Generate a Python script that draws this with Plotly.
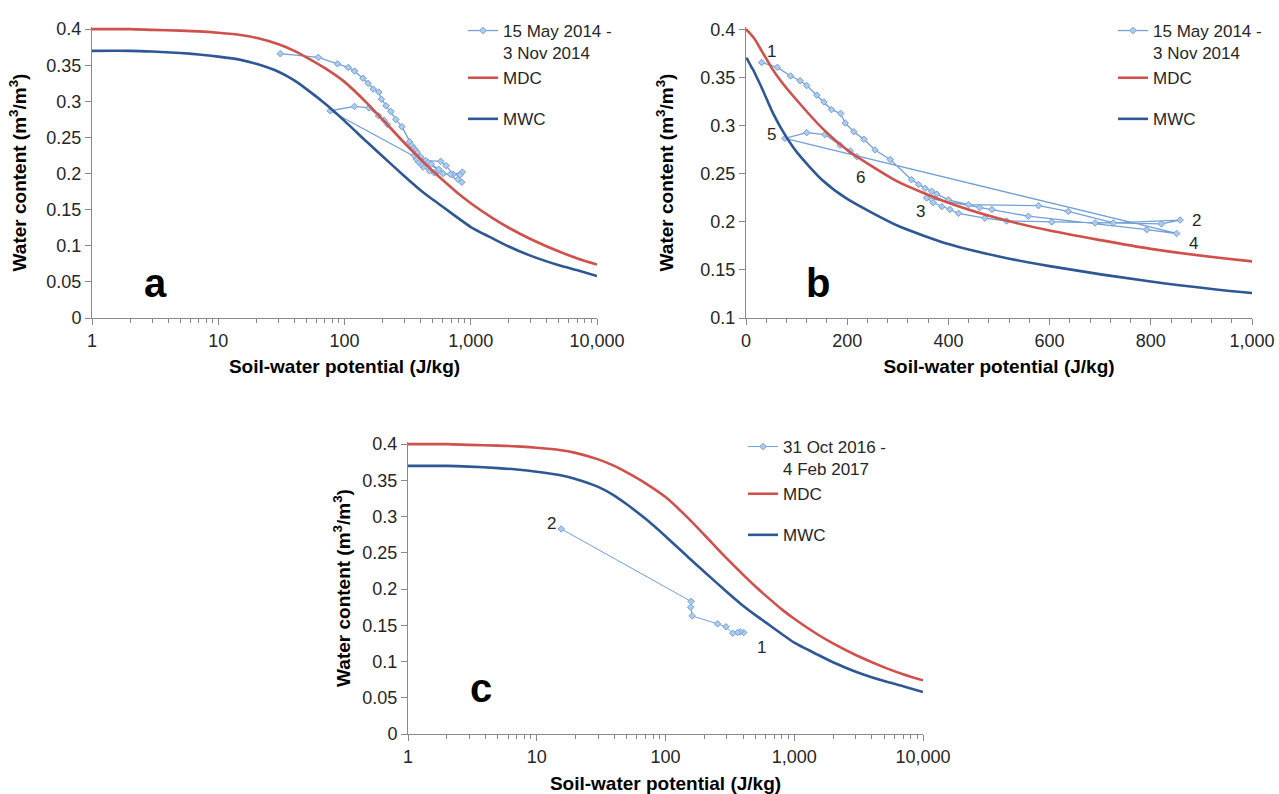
import math
import plotly.graph_objects as go

# ---------------- data ----------------
# Model curves: soil-water potential (J/kg) vs water content (m3/m3)
H_CURVE = [0, 1, 2, 3, 5, 7, 10, 15, 20, 30, 40, 50, 70, 100, 150, 200, 300, 400,
           500, 600, 800, 1000, 1500, 2000, 3000, 5000, 7000, 10000]
MDC = [0.400, 0.400, 0.400, 0.399, 0.398, 0.397, 0.395, 0.392, 0.388, 0.379, 0.370,
       0.361, 0.346, 0.327, 0.298, 0.275, 0.242, 0.220, 0.2035, 0.191, 0.172, 0.159,
       0.138, 0.125, 0.109, 0.092, 0.0825, 0.074]
MWC = [0.370, 0.370, 0.370, 0.369, 0.367, 0.365, 0.362, 0.3575, 0.352, 0.341, 0.329,
       0.317, 0.297, 0.273, 0.244, 0.224, 0.196, 0.177, 0.164, 0.154, 0.138, 0.126,
       0.110, 0.099, 0.086, 0.073, 0.066, 0.058]

# Measured series 15 May 2014 - 3 Nov 2014 (panels a and b)
S1_NAME = "15 May 2014 -<br>3 Nov 2014"
S1_H = [31, 62, 88, 107, 120, 140, 154, 169, 187, 196, 213, 233, 255, 285, 327, 341,
        354, 367, 377, 400, 440, 578, 637, 726, 858, 821, 690, 604, 515, 472, 420,
        403, 387, 370, 357, 462, 486, 558, 792, 851, 77, 120, 156, 186, 206, 219]
S1_T = [0.366, 0.361, 0.352, 0.347, 0.342, 0.332, 0.325, 0.317, 0.313, 0.303, 0.294,
        0.286, 0.275, 0.265, 0.244, 0.239, 0.235, 0.232, 0.229, 0.223, 0.218, 0.217,
        0.211, 0.199, 0.202, 0.198, 0.199, 0.200, 0.201, 0.204, 0.209, 0.213, 0.216,
        0.220, 0.225, 0.215, 0.213, 0.206, 0.192, 0.188, 0.287, 0.293, 0.291, 0.280,
        0.274, 0.268]

# Measured series 31 Oct 2016 - 4 Feb 2017 (panel c)
S2_NAME = "31 Oct 2016 -<br>4 Feb 2017"
S2_H = [405, 380, 363, 333, 295, 254, 161, 157, 158, 15.5]
S2_T = [0.140, 0.141, 0.140, 0.139, 0.148, 0.152, 0.163, 0.175, 0.183, 0.283]

# Point labels
LAB_B = ["1", "2", "3", "4", "5", "6"]
LAB_B_H = [51, 891, 344, 884, 51, 227]
LAB_B_T = [0.377, 0.202, 0.211, 0.178, 0.291, 0.246]
LAB_C = ["2", "1"]
LAB_C_H = [13.0, 552]
LAB_C_T = [0.291, 0.120]

# Ticks
LOG_TICKS = [1, 10, 100, 1000, 10000]
LOG_TICK_TEXT = ["1", "10", "100", "1,000", "10,000"]
LIN_TICKS = [0, 200, 400, 600, 800, 1000]
LIN_TICK_TEXT = ["0", "200", "400", "600", "800", "1,000"]
Y_TICKS_A = [0, 0.05, 0.1, 0.15, 0.2, 0.25, 0.3, 0.35, 0.4]
Y_TEXT_A = ["0", "0.05", "0.1", "0.15", "0.2", "0.25", "0.3", "0.35", "0.4"]
Y_TICKS_B = [0.1, 0.15, 0.2, 0.25, 0.3, 0.35, 0.4]
Y_TEXT_B = ["0.1", "0.15", "0.2", "0.25", "0.3", "0.35", "0.4"]

PANELS = ["a", "b", "c"]
X_TITLE = "<b>Soil-water potential (J/kg)</b>"
Y_TITLE = "<b>Water content (m<sup>3</sup>/m<sup>3</sup>)</b>"

# ---------------- style ----------------
W, H = 1279, 794
FONT = "Liberation Sans, Arial, sans-serif"
RED = "#D0504B"
DBLUE = "#2E5895"
LBLUE = "#73A0D5"
GRAY = "#8A8A8A"
TXT = "#262626"


def px_x(p):
    return p / W


def px_y(p):
    return 1 - p / H


fig = go.Figure()

H_POS = H_CURVE[1:]
MDC_POS = MDC[1:]
MWC_POS = MWC[1:]

panel_specs = [
    ("x", "y", "legend", S1_H, S1_T, S1_NAME, H_POS, MDC_POS, MWC_POS, 1.3),
    ("x2", "y2", "legend2", S1_H, S1_T, S1_NAME, H_CURVE, MDC, MWC, 1.3),
    ("x3", "y3", "legend3", S2_H, S2_T, S2_NAME, H_POS, MDC_POS, MWC_POS, 1.0),
]

for i, (xa, ya, lg, sh, st, nm, ch, cd, cw, lw) in enumerate(panel_specs):
    fig.add_trace(go.Scatter(
        x=sh, y=st, mode="lines+markers", name=nm, xaxis=xa, yaxis=ya, legend=lg,
        legendgroup=f"g{i}a",
        line=dict(color=LBLUE, width=lw),
        marker=dict(symbol="diamond", size=5, color="#AECAEC",
                    line=dict(color=LBLUE, width=1)),
    ))
    fig.add_trace(go.Scatter(
        x=ch, y=cd, mode="lines", name="MDC", xaxis=xa, yaxis=ya, legend=lg,
        legendgroup=f"g{i}a",
        line=dict(color=RED, width=2.6, shape="spline", smoothing=0.6),
    ))
    fig.add_trace(go.Scatter(
        x=ch, y=cw, mode="lines", name="MWC", xaxis=xa, yaxis=ya, legend=lg,
        legendgroup=f"g{i}b",
        line=dict(color=DBLUE, width=2.6, shape="spline", smoothing=0.6),
    ))

# ---------------- axes ----------------
tickfont = dict(family=FONT, size=18, color=TXT)
titlefont = dict(family=FONT, size=19, color="#000000")
minor_log = [m * 10 ** d for d in range(4) for m in range(2, 10)]

common = dict(showline=True, linecolor=GRAY, linewidth=1, ticks="outside",
              ticklen=6, tickcolor=GRAY, showgrid=False, zeroline=False,
              tickfont=tickfont, automargin=False)

# pixel layout of the three plot areas
A_X = (92, 597)
B_X = (746, 1252)
C_X = (408, 923)
AB_Y = (27, 318)
C_Y = (442, 734)

fig.update_layout(
    xaxis=dict(type="log", range=[0, 4], domain=[px_x(A_X[0]), px_x(A_X[1])],
               anchor="y", tickvals=LOG_TICKS, ticktext=LOG_TICK_TEXT,
               minor=dict(tickvals=minor_log, ticks="outside", ticklen=4,
                          tickcolor=GRAY, showgrid=False),
               title=dict(text=X_TITLE, font=titlefont, standoff=10), **common),
    yaxis=dict(range=[0, 0.403], domain=[px_y(AB_Y[1]), px_y(AB_Y[0])],
               anchor="x", tickvals=Y_TICKS_A, ticktext=Y_TEXT_A,
               title=dict(text=Y_TITLE, font=titlefont, standoff=14), **common),
    xaxis2=dict(type="linear", range=[0, 1000], domain=[px_x(B_X[0]), px_x(B_X[1])],
                anchor="y2", tickvals=LIN_TICKS, ticktext=LIN_TICK_TEXT,
                minor=dict(dtick=40, ticks="outside", ticklen=4,
                           tickcolor=GRAY, showgrid=False),
                title=dict(text=X_TITLE, font=titlefont, standoff=10), **common),
    yaxis2=dict(range=[0.1, 0.403], domain=[px_y(AB_Y[1]), px_y(AB_Y[0])],
                anchor="x2", tickvals=Y_TICKS_B, ticktext=Y_TEXT_B,
                title=dict(text=Y_TITLE, font=titlefont, standoff=21), **common),
    xaxis3=dict(type="log", range=[0, 4], domain=[px_x(C_X[0]), px_x(C_X[1])],
                anchor="y3", tickvals=LOG_TICKS, ticktext=LOG_TICK_TEXT,
                minor=dict(tickvals=minor_log, ticks="outside", ticklen=4,
                           tickcolor=GRAY, showgrid=False),
                title=dict(text=X_TITLE, font=titlefont, standoff=13), **common),
    yaxis3=dict(range=[0, 0.403], domain=[px_y(C_Y[1]), px_y(C_Y[0])],
                anchor="x3", tickvals=Y_TICKS_A, ticktext=Y_TEXT_A,
                title=dict(text=Y_TITLE, font=titlefont, standoff=6), **common),
)

legend_common = dict(xanchor="left", yanchor="top", bgcolor="rgba(0,0,0,0)",
                     font=dict(family=FONT, size=17, color=TXT),
                     traceorder="grouped", tracegroupgap=16, valign="top",
                     itemwidth=30)
fig.update_layout(
    legend=dict(x=px_x(463), y=px_y(13), **legend_common),
    legend2=dict(x=px_x(1113), y=px_y(13), **legend_common),
    legend3=dict(x=px_x(743), y=px_y(429), **legend_common),
)

# ---------------- annotations ----------------
annotations = []
letter_pos = [("x domain", "y domain", 0.125, 0.12),
              ("x2 domain", "y2 domain", 0.142, 0.12),
              ("x3 domain", "y3 domain", 0.142, 0.158)]
for letter, (xr, yr, fx, fy) in zip(PANELS, letter_pos):
    annotations.append(dict(text=f"<b>{letter}</b>", xref=xr, yref=yr, x=fx, y=fy,
                            showarrow=False, xanchor="center", yanchor="middle",
                            font=dict(family=FONT, size=40, color="#000000")))
for t, hx, ty in zip(LAB_B, LAB_B_H, LAB_B_T):
    annotations.append(dict(text=t, xref="x2", yref="y2", x=hx, y=ty, showarrow=False,
                            font=dict(family=FONT, size=17, color=TXT)))
for t, hx, ty in zip(LAB_C, LAB_C_H, LAB_C_T):
    annotations.append(dict(text=t, xref="x3", yref="y3", x=math.log10(hx), y=ty,
                            showarrow=False, font=dict(family=FONT, size=17, color=TXT)))

fig.update_layout(
    annotations=annotations,
    width=W, height=H, margin=dict(l=0, r=0, t=0, b=0, autoexpand=False),
    paper_bgcolor="white", plot_bgcolor="white",
    font=dict(family=FONT, color=TXT),
)

fig.write_html(
    "out.html",
    config={"displayModeBar": False},
    post_script="document.body.style.margin='0';document.body.style.overflow='hidden';",
)
